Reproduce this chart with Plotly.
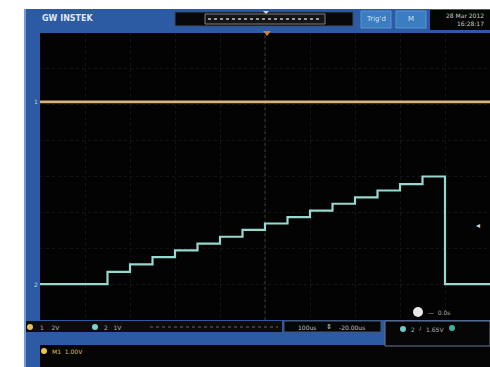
import plotly.graph_objects as go

# ---------------- data (read from the screen) ----------------
# time axis: 100 us/div, 10 divisions
time_per_div_us = 100
# CH2 staircase: edge times (us) and level held from each edge (V)
ch2_times_us = [-500, -350, -300, -250, -200, -150, -100, -50, 0, 50,
                100, 150, 200, 250, 300, 350, 400, 500]
ch2_volts = [0.0, 0.34, 0.55, 0.75, 0.94, 1.13, 1.32, 1.51, 1.69, 1.87,
             2.05, 2.24, 2.42, 2.61, 2.79, 3.00, 0.0, 0.0]
ch2_volts_per_div = 1.0
ch2_offset_div = -3.0
# CH1: flat DC level
ch1_times_us = [-500, 500]
ch1_volts = [0.0, 0.0]
ch1_volts_per_div = 2.0
ch1_offset_div = 2.08
trigger_level_v = 1.65  # on CH2

W, H = 490, 367
# plot area in pixels
PX0, PX1, PY0, PY1 = 40, 490, 33, 320


def to_div(vals, vpd, off):
    return [v / vpd + off for v in vals]


def rect(x0, y0, x1, y1, fill, line=None, lw=0, layer="below"):
    return dict(type="rect", xref="paper", yref="paper",
                x0=x0 / W, x1=x1 / W, y0=1 - y1 / H, y1=1 - y0 / H,
                fillcolor=fill, line=dict(color=line or fill, width=lw),
                layer=layer)


def circ(cx, cy, r, fill):
    return dict(type="circle", xref="paper", yref="paper",
                x0=(cx - r) / W, x1=(cx + r) / W,
                y0=1 - (cy + r) / H, y1=1 - (cy - r) / H,
                fillcolor=fill, line=dict(width=0), layer="above")


def txt(x, y, s, color="#b8b8b8", size=7, anchor="left", bold=False):
    if bold:
        s = "<b>" + s + "</b>"
    return dict(x=x / W, y=1 - y / H, xref="paper", yref="paper", text=s,
                showarrow=False, xanchor=anchor, yanchor="middle",
                font=dict(color=color, size=size, family="DejaVu Sans"))


BLUE = "#2c5aa3"
fig = go.Figure()

fig.add_trace(go.Scatter(
    x=ch1_times_us, y=to_div(ch1_volts, ch1_volts_per_div, ch1_offset_div),
    mode="lines", line=dict(color="#d9b577", width=2.6), hoverinfo="skip"))
fig.add_trace(go.Scatter(
    x=ch2_times_us, y=to_div(ch2_volts, ch2_volts_per_div, ch2_offset_div),
    mode="lines", line=dict(color="#98d8cf", width=2.2, shape="hv"),
    hoverinfo="skip"))

shapes = [
    rect(24, 9, 490, 367, BLUE),
    rect(24, 9, 26, 367, "#6f9bd6"),
    rect(PX0, PY0, PX1, PY1, "#030303"),
    rect(40, 345, 490, 367, "#050505"),
    # top bar
    rect(175, 12, 353, 26, "#080808", "#3a4a6a", 1),
    rect(205, 14, 325, 24, "#151515", "#808080", 1),
    rect(361, 11, 391, 28, "#3c7cc0", "#5a94d0", 1),
    rect(396, 11, 426, 28, "#3c7cc0", "#5a94d0", 1),
    rect(430, 10, 490, 30, "#050505"),
    # bottom status bar
    rect(26, 321, 282, 332, "#0c0c0c"),
    rect(284, 321, 381, 332, "#060606", "#4a5670", 1),
    rect(385, 321, 490, 346, "#060606", "#6a7890", 1),
    circ(30, 327, 3, "#e6c25a"),
    circ(95, 327, 3, "#7fd3cf"),
    circ(403, 329, 3, "#6fc9c4"),
    circ(452, 328, 3, "#3fae9e"),
    circ(44, 351, 3, "#e6c25a"),
    circ(418, 312, 5, "#e8e8e8"),
]
# dotted overview waveform in the top bar
shapes.append(dict(type="line", xref="paper", yref="paper",
                   x0=208 / W, x1=322 / W, y0=1 - 19 / H, y1=1 - 19 / H,
                   line=dict(color="#9a9a9a", width=2, dash="dot"), layer="above"))
# dotted fill in status bar
shapes.append(dict(type="line", xref="paper", yref="paper",
                   x0=150 / W, x1=278 / W, y0=1 - 327 / H, y1=1 - 327 / H,
                   line=dict(color="#3a3a3a", width=2, dash="dot"), layer="above"))
# top trigger position marker
shapes.append(dict(type="path", xref="paper", yref="paper",
                   path="M {a} {b} L {c} {b} L {d} {e} Z".format(
                       a=263 / W, c=271 / W, b=1 - 31 / H, d=267 / W, e=1 - 36 / H),
                   fillcolor="#d08030", line=dict(width=0), layer="above"))
shapes.append(dict(type="path", xref="paper", yref="paper",
                   path="M {a} {b} L {c} {b} L {d} {e} Z".format(
                       a=263 / W, c=269 / W, b=1 - 11 / H, d=266 / W, e=1 - 14 / H),
                   fillcolor="#dddddd", line=dict(width=0), layer="above"))
# centre graticule lines
shapes.append(dict(type="line", xref="x", yref="paper", x0=0, x1=0,
                   y0=1 - PY1 / H, y1=1 - PY0 / H,
                   line=dict(color="#4a3e34", width=1, dash="dot"), layer="below"))
shapes.append(dict(type="line", xref="paper", yref="y", x0=PX0 / W, x1=1,
                   y0=0, y1=0,
                   line=dict(color="#40383a", width=1, dash="dot"), layer="below"))

annotations = [
    txt(40, 18, "GW INSTEK", "#dfe6f2", 8, bold=True),
    txt(376, 19.5, "Trig'd", "#cfe4ee", 7, "center"),
    txt(411, 19.5, "M", "#cfe4ee", 7, "center"),
    txt(486, 15, "28 Mar 2012", "#c8c8c8", 6, "right"),
    txt(486, 24, "16:28:17", "#c8c8c8", 6, "right"),
    txt(38, 327, "1    2V", "#b0b0b0", 6),
    txt(102, 327, "2   1V", "#b0b0b0", 6),
    txt(296, 327, "100us", "#c0c0c0", 6),
    txt(329, 327, "⇕", "#d0d0d0", 7, "center"),
    txt(337, 327, "-20.00us", "#c0c0c0", 6),
    txt(409, 329, "2  ╯  1.65V", "#b0b0b0", 6),
    txt(426, 312, "—  0.0s", "#b0b0b0", 6),
    txt(50, 351, "M1  1.00V", "#d8c070", 6),
    # ground markers in left frame
    dict(x=32 / W, y=ch1_offset_div, xref="paper", yref="y", text="1",
         showarrow=False, font=dict(color="#d9c9a0", size=6, family="DejaVu Sans")),
    dict(x=32 / W, y=ch2_offset_div, xref="paper", yref="y", text="2",
         showarrow=False, font=dict(color="#a8e0da", size=6, family="DejaVu Sans")),
    # trigger level marker at right edge
    dict(x=482 / W, y=trigger_level_v / ch2_volts_per_div + ch2_offset_div,
         xref="paper", yref="y", text="◂", showarrow=False,
         font=dict(color="#d8d8d8", size=8)),
]

half_x = 5 * time_per_div_us
fig.update_layout(
    width=W, height=H, autosize=False,
    margin=dict(l=0, r=0, t=0, b=0, pad=0),
    paper_bgcolor="white", plot_bgcolor="#030303",
    showlegend=False,
    xaxis=dict(domain=[PX0 / W, PX1 / W], range=[-half_x, half_x],
               dtick=time_per_div_us, showticklabels=False, zeroline=False,
               showline=False, gridcolor="#141414", griddash="dot",
               fixedrange=True),
    yaxis=dict(domain=[1 - PY1 / H, 1 - PY0 / H], range=[-4, 4], dtick=1,
               showticklabels=False, zeroline=False, showline=False,
               gridcolor="#141414", griddash="dot", fixedrange=True),
    shapes=shapes, annotations=annotations,
)

fig.write_html("out.html", config={"displayModeBar": False},
               post_script="document.body.style.margin='0';"
                           "document.body.style.overflow='hidden';")
